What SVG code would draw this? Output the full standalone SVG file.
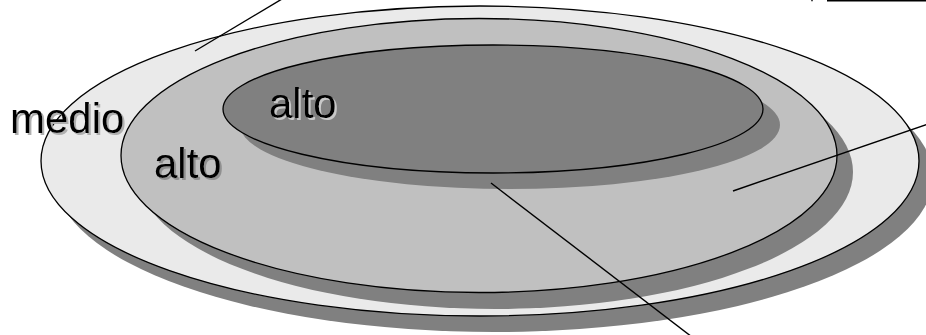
<svg xmlns="http://www.w3.org/2000/svg" width="926" height="335" viewBox="0 0 926 335">
<defs>
<filter id="tsA" x="-10%" y="-20%" width="130%" height="150%">
<feOffset in="SourceAlpha" dx="2" dy="2" result="o"/>
<feFlood flood-color="#b0b0b0"/>
<feComposite in2="o" operator="in" result="s"/>
<feMerge><feMergeNode in="s"/><feMergeNode in="SourceGraphic"/></feMerge>
</filter>
<filter id="tsB" x="-10%" y="-20%" width="130%" height="150%">
<feOffset in="SourceAlpha" dx="1.5" dy="1.5" result="o"/>
<feFlood flood-color="#909090"/>
<feComposite in2="o" operator="in" result="s"/>
<feMerge><feMergeNode in="s"/><feMergeNode in="SourceGraphic"/></feMerge>
</filter>
<filter id="tsC" x="-10%" y="-20%" width="130%" height="150%">
<feOffset in="SourceAlpha" dx="1.5" dy="1.5" result="o"/>
<feFlood flood-color="#c8c8c8"/>
<feComposite in2="o" operator="in" result="s"/>
<feMerge><feMergeNode in="s"/><feMergeNode in="SourceGraphic"/></feMerge>
</filter>
</defs>
<style>
.sh{fill:#808080;stroke:none}
.ol{stroke:#000;stroke-width:1.3}
.ln{stroke:#000;stroke-width:1.4;fill:none}
.t{font-family:"Liberation Sans",Arial,sans-serif;font-size:42px;fill:#000}
</style>
<rect width="926" height="335" fill="#fff"/>
<g id="outer">
<ellipse class="sh" cx="494" cy="177" rx="439" ry="155"/>
<ellipse class="ol" cx="480" cy="161" rx="439" ry="155" fill="#eaeaea"/>
</g>
<g id="middle">
<ellipse class="sh" cx="495" cy="172" rx="358" ry="137"/>
<ellipse class="ol" cx="479" cy="155.5" rx="358" ry="137" fill="#c0c0c0"/>
</g>
<g id="inner">
<ellipse class="sh" cx="510" cy="125" rx="270" ry="64"/>
<ellipse class="ol" cx="493" cy="109" rx="270" ry="64" fill="#808080"/>
</g>
<g id="labels">
<text class="t" x="10" y="133" filter="url(#tsA)">medio</text>
<text class="t" x="154" y="178" filter="url(#tsB)">alto</text>
<text class="t" x="269" y="118" filter="url(#tsC)">alto</text>
</g>
<g id="connectors">
<line class="ln" x1="195" y1="51" x2="282" y2="-1"/>
<line class="ln" x1="733" y1="191" x2="928" y2="124"/>
<line class="ln" x1="491" y1="183" x2="692" y2="337"/>
<line class="ln" x1="827" y1="0.8" x2="926" y2="0.8" stroke-width="1.6"/>
<line class="ln" x1="812" y1="0" x2="812" y2="1.2"/>
</g>
</svg>
